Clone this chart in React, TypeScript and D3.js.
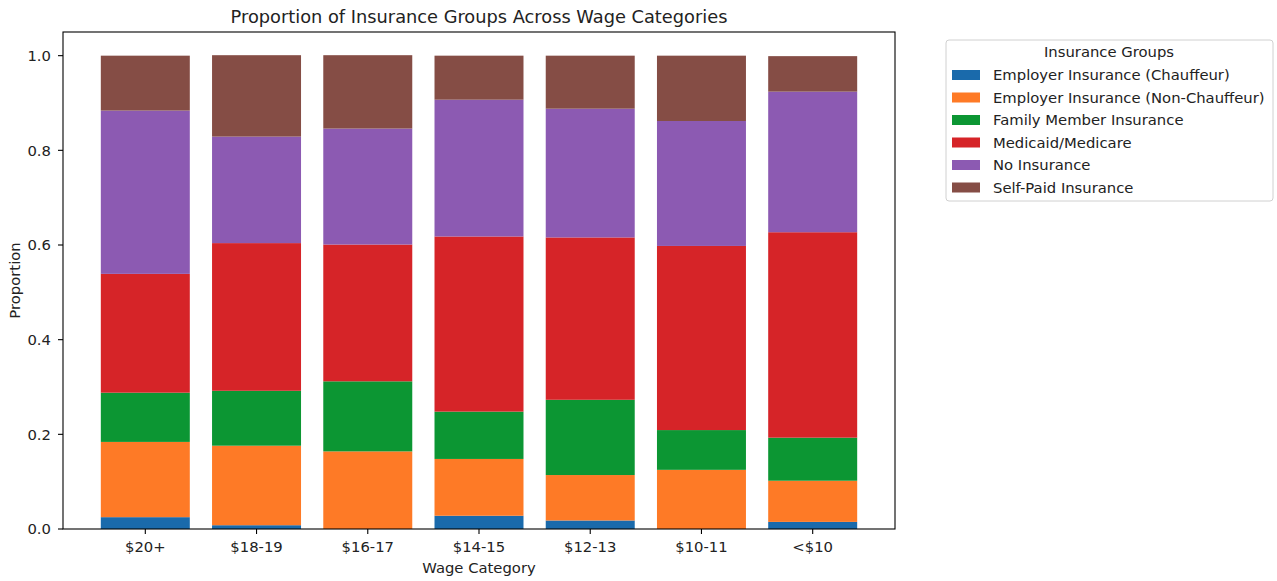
import React from 'react';
import * as d3 from 'd3';

const categories = ['$20+', '$18-19', '$16-17', '$14-15', '$12-13', '$10-11', '<$10'];
const groups = [
  'Employer Insurance (Chauffeur)',
  'Employer Insurance (Non-Chauffeur)',
  'Family Member Insurance',
  'Medicaid/Medicare',
  'No Insurance',
  'Self-Paid Insurance',
];
// proportions per wage category, one array per insurance group
const employerChauffeur = [0.025, 0.008, 0.0, 0.028, 0.018, 0.0, 0.015];
const employerNonChauffeur = [0.159, 0.168, 0.164, 0.12, 0.096, 0.125, 0.087];
const familyMember = [0.104, 0.116, 0.148, 0.1, 0.159, 0.084, 0.091];
const medicaid = [0.251, 0.312, 0.289, 0.37, 0.343, 0.389, 0.434];
const noInsurance = [0.345, 0.225, 0.245, 0.289, 0.272, 0.264, 0.297];
const selfPaid = [0.116, 0.172, 0.155, 0.093, 0.112, 0.138, 0.075];
const yTicks = [0, 0.2, 0.4, 0.6, 0.8, 1.0];

const colors = ['#1a6aab', '#fe7a26', '#0c9633', '#d62428', '#8c5ab2', '#854d45'];

const W = 1277;
const H = 581;
const margin = { left: 63, right: 382, top: 32, bottom: 52 };
const font = 'DejaVu Sans, sans-serif';
const fs = 14.8;

export default function App() {
  const series = [employerChauffeur, employerNonChauffeur, familyMember, medicaid, noInsurance, selfPaid];
  const rows = categories.map((c, i) => {
    const r: any = { cat: c };
    groups.forEach((g, j) => (r[g] = series[j][i]));
    return r;
  });
  const stacked = d3.stack().keys(groups)(rows);

  const x = d3
    .scaleLinear()
    .domain([-0.74, categories.length - 1 + 0.74])
    .range([margin.left, W - margin.right]);
  const y = d3
    .scaleLinear()
    .domain([0, 1.05])
    .range([H - margin.bottom, margin.top]);
  const bw = x(0.4) - x(-0.4);

  const x0 = margin.left;
  const x1 = W - margin.right;
  const y0 = H - margin.bottom;
  const y1 = margin.top;

  return (
    <svg width={W} height={H} style={{ position: 'absolute', left: 0, top: 0, background: '#fff' }} fontFamily={font}>
      <rect width={W} height={H} fill="#fff" />
      {stacked.map((layer, j) => (
        <g key={groups[j]} fill={colors[j]}>
          {layer.map((d, i) => (
            <rect
              key={i}
              x={x(i) - bw / 2}
              y={y(d[1])}
              width={bw}
              height={Math.max(0, y(d[0]) - y(d[1]))}
            />
          ))}
        </g>
      ))}

      {/* frame */}
      <rect x={x0} y={y1} width={x1 - x0} height={y0 - y1} fill="none" stroke="#000" strokeWidth={1.1} />

      {/* y axis */}
      {yTicks.map(t => (
        <g key={t}>
          <line x1={x0 - 5} x2={x0} y1={y(t)} y2={y(t)} stroke="#000" strokeWidth={1.1} />
          <text x={x0 - 12} y={y(t)} dy="0.36em" textAnchor="end" fontSize={fs} fill="#222">
            {t.toFixed(1)}
          </text>
        </g>
      ))}
      <text
        transform={`translate(20,${(y0 + y1) / 2}) rotate(-90)`}
        textAnchor="middle"
        fontSize={fs}
        fill="#222"
      >
        Proportion
      </text>

      {/* x axis */}
      {categories.map((c, i) => (
        <g key={c}>
          <line x1={x(i)} x2={x(i)} y1={y0} y2={y0 + 5} stroke="#000" strokeWidth={1.1} />
          <text x={x(i)} y={y0 + 22.5} textAnchor="middle" fontSize={fs} fill="#222">
            {c}
          </text>
        </g>
      ))}
      <text x={(x0 + x1) / 2} y={y0 + 44} textAnchor="middle" fontSize={fs} fill="#222">
        Wage Category
      </text>

      <text x={(x0 + x1) / 2} y={23} textAnchor="middle" fontSize={17.8} fill="#222">
        Proportion of Insurance Groups Across Wage Categories
      </text>

      {/* legend */}
      <g>
        <rect x={946} y={40} width={327} height={161} rx={3} fill="#fff" stroke="#d0d0d0" strokeWidth={1} />
        <text x={1109} y={57} textAnchor="middle" fontSize={fs} fill="#222">
          Insurance Groups
        </text>
        {groups.map((g, j) => (
          <g key={g} transform={`translate(0,${75 + j * 22.5})`}>
            <rect x={952} y={-5} width={28} height={10} fill={colors[j]} />
            <text x={993} y={0} dy="0.36em" fontSize={fs} fill="#222">
              {g}
            </text>
          </g>
        ))}
      </g>
    </svg>
  );
}
